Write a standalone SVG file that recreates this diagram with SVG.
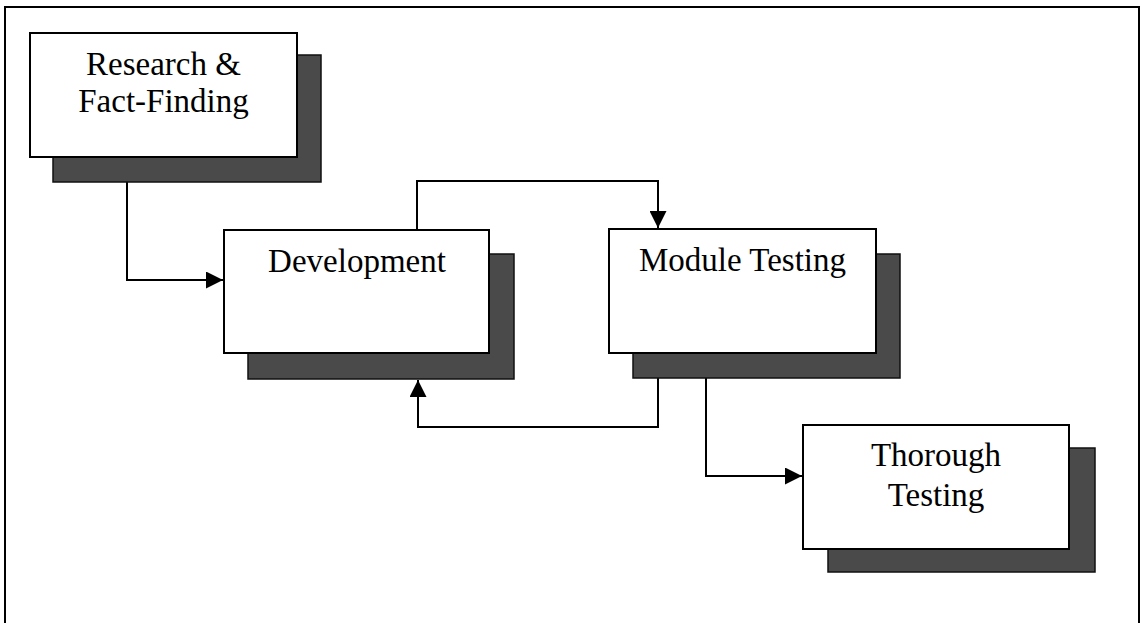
<svg xmlns="http://www.w3.org/2000/svg" width="1142" height="623" viewBox="0 0 1142 623">
  <style>
    .frame { fill: #ffffff; stroke: #000000; stroke-width: 2; }
    .shadow { fill: #4a4a4a; stroke: #111111; stroke-width: 1.5; }
    .box { fill: #ffffff; stroke: #000000; stroke-width: 2; }
    .label { font-family: "Liberation Serif", "Times New Roman", serif; font-size: 33px; fill: #000000; text-anchor: middle; }
    .link { fill: none; stroke: #000000; stroke-width: 2; marker-end: url(#arrow); }
  </style>
  <defs>
    <marker id="arrow" markerUnits="userSpaceOnUse" markerWidth="18" markerHeight="17" refX="17" refY="8.5" orient="auto">
      <path d="M0,0 L17,8.5 L0,17 Z" fill="#000000"/>
    </marker>
  </defs>

  <!-- page frame -->
  <rect class="frame" x="5" y="7" width="1134" height="630"/>

  <!-- connectors -->
  <g id="connectors">
    <path class="link" d="M127 182 V280 H223"/>
    <path class="link" d="M417 230 V181 H658 V228"/>
    <path class="link" d="M658 378 V427 H418 V380"/>
    <path class="link" d="M706 378 V476 H802"/>
  </g>

  <g id="research">
    <rect class="shadow" x="53" y="55" width="268" height="127"/>
    <rect class="box" x="30" y="33" width="267" height="124"/>
    <text class="label" x="163.5" y="75">Research &amp;</text>
    <text class="label" x="163.5" y="112">Fact-Finding</text>
  </g>

  <g id="development">
    <rect class="shadow" x="248" y="254" width="266" height="125"/>
    <rect class="box" x="224" y="230" width="265" height="123"/>
    <text class="label" x="357" y="272">Development</text>
  </g>

  <g id="module-testing">
    <rect class="shadow" x="633" y="254" width="267" height="124"/>
    <rect class="box" x="609" y="229" width="267" height="124"/>
    <text class="label" x="742.5" y="271">Module Testing</text>
  </g>

  <g id="thorough-testing">
    <rect class="shadow" x="828" y="448" width="267" height="124"/>
    <rect class="box" x="803" y="425" width="266" height="124"/>
    <text class="label" x="936" y="466">Thorough</text>
    <text class="label" x="936" y="506">Testing</text>
  </g>
</svg>
